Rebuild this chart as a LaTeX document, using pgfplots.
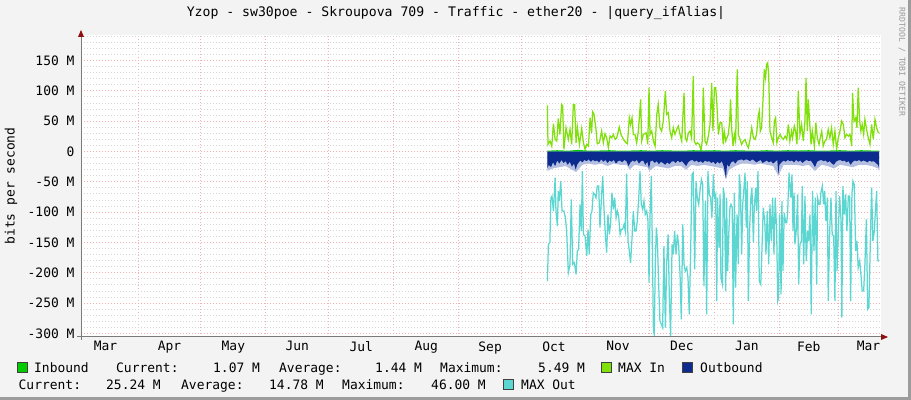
\documentclass[border=0pt]{standalone}
\usepackage{fontspec}
\setmainfont{DejaVu Sans Mono}
\usepackage{pgfplots}
\pgfplotsset{compat=1.18}
\definecolor{bgc}{HTML}{F3F3F3}
\definecolor{inb}{HTML}{00CC00}
\definecolor{maxin}{HTML}{7FE00A}
\definecolor{outb}{HTML}{0B2C8E}
\definecolor{outbl}{HTML}{B4BEE0}
\definecolor{maxout}{HTML}{5CD6D1}
\definecolor{gridmaj}{HTML}{F4B0B0}
\definecolor{gridmin}{HTML}{D6D6D6}
\definecolor{axisc}{HTML}{7A7A7A}
\definecolor{arrowc}{HTML}{8E1010}
\definecolor{frame}{HTML}{9C9C9C}
\begin{document}
\begin{tikzpicture}
\fill[bgc] (0bp,0bp) rectangle (911bp,400bp);
\fill[frame] (908bp,0bp) rectangle (911bp,400bp);
\fill[frame] (0bp,0bp) rectangle (911bp,3bp);
\fill[white] (81bp,63bp) rectangle (881bp,365bp);
\begin{axis}[
  at={(81bp,63bp)}, anchor=south west,
  width=799bp, height=302bp, scale only axis,
  xmin=-27.2, xmax=354, ymin=-306, ymax=192,
  axis line style={draw=none},
  xtick={0,30,61,91,122,153,183,214,244,275,306,334},
  xticklabels={},
  extra x ticks={-15.5,15,45.5,76,106.5,137.5,168,198.5,229,259.5,290.5,320,348.5},
  extra x tick labels={Mar,Apr,May,Jun,Jul,Aug,Sep,Oct,Nov,Dec,Jan,Feb,Mar},
  extra x tick style={grid=none},
  ytick={-300,-250,-200,-150,-100,-50,0,50,100,150},
  yticklabels={-300 M,-250 M,-200 M,-150 M,-100 M,-50 M,0,50 M,100 M,150 M},
  minor ytick={-290,-280,-270,-260,-240,-230,-220,-210,-190,-180,-170,-160,-140,-130,-120,-110,-90,-80,-70,-60,-40,-30,-20,-10,10,20,30,40,60,70,80,90,110,120,130,140,160,170,180,190},
  xmajorgrids, ymajorgrids, yminorgrids,
  major grid style={gridmaj, dash pattern=on 1bp off 2bp, line width=0.8bp},
  minor grid style={gridmin, dash pattern=on 1bp off 2bp, line width=0.8bp},
  tick style={draw=none},
  tick label style={font=\fontsize{13}{15}\selectfont, text=black},
  yticklabel style={xshift=-3bp},
  xticklabel style={yshift=-1bp},
]
% MAX In
\addplot[maxin, line width=1.25bp] coordinates {
(195.3,75.8) (195.6,11.6) (196.6,17.1) (197.4,8.8) (198.2,45.6) (199.0,19.8) (199.8,17.1) (200.5,54.4) (201.3,28.0) (202.1,77.5) (202.6,74.7) (203.2,3.3) (204.2,39.0) (205.3,19.8) (206.1,36.3) (206.9,11.6) (207.7,77.5) (208.3,77.5) (209.0,14.3) (209.6,40.1) (210.6,11.6) (211.7,37.9) (212.5,14.3) (213.3,3.3) (214.1,11.6) (214.9,8.8) (215.7,55.5) (216.4,30.8) (216.9,65.4) (217.6,61.0) (218.5,36.3) (219.1,12.7) (220.1,14.3) (221.2,33.5) (222.0,14.3) (222.8,29.1) (223.6,22.5) (224.4,6.1) (225.2,25.3) (226.0,22.5) (226.8,28.0) (227.6,19.8) (228.4,22.5) (229.6,40.1) (230.4,28.0) (231.6,19.8) (232.8,14.3) (233.5,12.7) (234.4,55.5) (235.0,44.5) (235.7,55.5) (236.3,28.0) (237.1,28.0) (237.9,14.3) (238.7,33.5) (239.8,85.7) (240.3,17.1) (241.1,28.0) (242.4,30.8) (243.2,11.6) (243.8,105.0) (244.3,28.0) (245.1,33.5) (245.9,17.1) (246.7,8.8) (247.5,61.0) (248.2,77.5) (249.0,39.0) (249.8,33.5) (250.6,50.0) (251.6,99.5) (252.2,61.0) (253.0,63.8) (253.8,33.5) (254.6,22.5) (255.4,39.0) (256.2,28.0) (257.0,36.3) (257.8,41.8) (258.6,28.0) (259.4,17.1) (260.5,96.7) (261.1,22.5) (261.8,17.1) (262.6,30.8) (263.4,33.5) (264.1,22.5) (264.9,124.2) (265.4,17.1) (266.2,11.6) (266.8,14.3) (267.8,11.6) (268.6,1.7) (269.2,17.1) (269.7,105.0) (270.5,17.1) (271.3,11.6) (272.1,25.3) (272.9,44.5) (273.7,113.2) (274.3,33.5) (275.0,105.0) (275.6,105.0) (276.2,77.5) (276.9,28.0) (277.7,47.3) (278.5,47.3) (279.2,11.6) (279.7,33.5) (280.4,17.1) (281.0,22.5) (281.6,28.0) (282.3,50.0) (282.7,85.7) (283.2,39.0) (283.9,8.8) (284.5,28.0) (285.1,17.1) (285.9,135.2) (286.4,28.0) (287.2,19.8) (288.0,11.6) (288.8,17.1) (289.6,19.8) (290.4,11.6) (291.2,6.1) (292.0,19.8) (292.8,39.0) (293.6,22.5) (294.4,19.8) (295.1,28.0) (295.9,58.3) (296.4,66.5) (296.9,33.5) (297.5,39.0) (298.3,94.0) (298.8,135.2) (299.4,121.4) (299.9,143.4) (300.4,146.1) (300.9,126.9) (301.5,33.5) (302.3,22.5) (303.1,14.3) (303.6,50.0) (304.2,55.5) (304.8,14.3) (305.5,22.5) (306.3,28.0) (307.1,22.5) (307.9,19.8) (308.7,25.3) (309.5,19.8) (310.3,44.5) (311.0,17.1) (311.8,33.5) (312.3,22.5) (313.1,41.8) (313.7,33.5) (314.4,11.6) (315.0,99.5) (315.8,28.0) (316.6,44.5) (317.4,17.1) (318.2,50.0) (318.7,121.4) (319.3,33.5) (319.8,85.7) (320.4,50.0) (321.1,11.6) (321.7,33.5) (322.7,8.8) (323.4,47.3) (324.1,22.5) (324.9,11.6) (325.5,22.5) (326.2,33.5) (326.9,8.8) (327.7,17.1) (328.5,19.8) (329.3,36.3) (330.1,22.5) (330.9,39.0) (331.7,11.6) (332.5,33.5) (333.3,3.3) (334.1,22.5) (334.9,33.5) (335.7,50.0) (336.5,44.5) (337.3,22.5) (338.1,28.0) (338.9,25.3) (339.7,28.0) (340.5,8.8) (340.9,96.7) (341.6,50.0) (342.4,55.5) (343.0,39.0) (343.6,105.0) (344.3,50.0) (344.9,33.5) (345.5,44.5) (346.2,28.0) (346.8,52.8) (347.6,36.3) (348.4,22.5) (349.2,11.6) (350.0,44.5) (350.8,19.8) (351.6,52.8) (352.4,39.0) (353.2,30.8) (353.7,30.8)
};
% Outbound (faded edge)
\addplot[fill=outbl, draw=none] coordinates {
(195.3,-32) (198,-28) (201,-26) (204,-24) (207,-30) (209,-34) (212,-22) (215,-20) (218,-22) (221,-20) (224,-24) (227,-20) (230,-22) (233,-22) (234.5,-30) (237,-22) (240,-24) (243,-26) (244,-32) (247,-24) (250,-26) (253,-28) (256,-24) (259,-24) (261.5,-30) (264,-22) (267,-24) (270,-22) (273,-24) (276,-26) (279,-28) (280.5,-46) (282,-30) (285,-24) (288,-20) (291,-20) (294,-22) (297,-20) (300,-22) (303,-24) (305.5,-40) (308,-22) (311,-22) (314,-22) (317,-24) (320,-22) (323,-32) (326,-22) (329,-24) (332,-28) (335,-22) (338,-24) (341,-26) (344,-22) (347,-22) (350,-24) (353,-28) (353.6,-32)
} \closedcycle;
% Outbound
\addplot[fill=outb, draw=none] coordinates {
(195.3,-28) (196,-22) (197,-26) (198,-18) (199,-24) (200,-15) (201,-20) (202,-14) (203,-19) (204,-16) (205,-22) (206,-17) (207,-25) (208,-20) (208.8,-30) (209.5,-22) (210.3,-18) (211,-15) (212,-18) (213,-14) (214,-16) (215,-13) (216,-17) (217,-14) (218,-16) (219,-15) (220,-18) (221,-13) (222,-17) (223,-14) (224,-19) (225,-15) (226,-17) (227,-14) (228,-20) (229,-16) (230,-15) (231,-18) (232,-14) (233,-16) (234,-24) (235,-18) (236,-15) (237,-17) (238,-14) (239,-20) (240,-16) (241,-15) (242,-22) (243,-17) (243.8,-28) (244.5,-16) (245.5,-15) (246.5,-19) (247.5,-16) (248.5,-21) (249.5,-17) (250.5,-19) (251.5,-22) (252.5,-18) (253.5,-21) (254.5,-17) (255.5,-16) (256.5,-19) (257.5,-15) (258.5,-18) (259.5,-16) (260.5,-20) (261.5,-24) (262.5,-18) (263.5,-15) (264.5,-14) (265.5,-17) (266.5,-15) (267.5,-18) (268.5,-16) (269.5,-19) (270.5,-15) (271.5,-17) (272.5,-16) (273.5,-19) (274.5,-17) (275.5,-21) (276.5,-17) (277.5,-20) (278.5,-16) (279.5,-25) (280.5,-45) (281,-22) (282,-25) (283,-18) (284,-16) (285,-20) (286,-15) (287,-14) (288,-13) (289,-15) (290,-13) (291,-14) (292,-16) (293,-13) (294,-15) (295,-18) (296,-16) (297,-14) (298,-19) (299,-17) (300,-15) (301,-18) (302,-16) (303,-20) (304,-17) (305,-14) (305.5,-38) (306,-22) (307,-18) (308,-15) (309,-17) (310,-14) (311,-16) (312,-15) (313,-18) (314,-14) (315,-17) (316,-15) (317,-19) (318,-16) (319,-14) (320,-16) (321,-15) (322,-20) (323,-26) (324,-17) (325,-15) (326,-14) (327,-16) (328,-15) (329,-18) (330,-16) (331,-20) (332,-22) (333,-17) (334,-15) (335,-14) (336,-16) (337,-15) (338,-18) (339,-16) (340,-22) (341,-17) (342,-15) (343,-16) (344,-14) (345,-17) (346,-15) (347,-16) (348,-18) (349,-15) (350,-17) (351,-16) (352,-19) (353,-22) (353.6,-28)
} \closedcycle;
% Inbound
\addplot[fill=inb, draw=none] coordinates {
(195.3,1.2) (200,2) (205,1.2) (210,2.5) (215,1.2) (220,1.5) (225,2) (230,1.2) (235,1.5) (240,2) (245,1.2) (250,2) (255,1.5) (260,1.2) (265,2) (270,1.5) (275,2) (280,1.2) (285,2) (290,1.5) (295,1.2) (300,2) (305,1.2) (310,2) (315,1.5) (320,2) (325,1.2) (330,1.5) (335,2) (340,1.2) (345,2) (350,1.5) (353.6,1.2)
} \closedcycle;
% MAX Out
\addplot[maxout, line width=1.25bp] coordinates {
(195.3,-213.7) (195.8,-153.3) (196.5,-150) (197.0,-76.3) (197.5,-73.6) (198.2,-98.3) (199.0,-43.4) (199.4,-98.3) (200.1,-123.0) (200.5,-65.4) (201.0,-81.8) (201.7,-48.9) (202.3,-98.3) (203.2,-98.3) (203.9,-109.3) (204.5,-131.3) (205.3,-200.0) (206.1,-186.2) (206.7,-79.1) (207.4,-186.2) (208.2,-183.5) (209.0,-202.7) (209.6,-164.2) (210.2,-161.5) (210.9,-87.3) (211.5,-131.3) (212.0,-32.4) (212.5,-136.8) (213.3,-139.5) (214.1,-172.5) (214.7,-128.5) (215.3,-169.7) (216.0,-103.8) (216.6,-98.3) (217.2,-68.1) (217.9,-70.9) (218.5,-76.3) (219.1,-57.1) (219.8,-57.1) (220.4,-125.8) (221.1,-76.3) (221.7,-40.6) (222.3,-92.8) (223.0,-139.5) (223.6,-167.0) (224.2,-103.8) (224.9,-136.8) (225.5,-117.5) (226.1,-68.1) (226.8,-95.6) (227.4,-76.3) (228.1,-109.3) (228.7,-98.3) (229.3,-106.6) (230.0,-136.8) (230.6,-128.5) (231.2,-128.5) (231.9,-120.3) (232.5,-131.3) (233.1,-36.8) (233.8,-147.8) (234.4,-164.2) (235.0,-183.5) (235.7,-142.3) (236.3,-98.3) (237.0,-131.3) (237.6,-131.3) (238.2,-114.8) (238.9,-76.3) (239.5,-32.4) (240.1,-87.3) (240.8,-95.6) (241.4,-81.8) (242.0,-103.8) (242.7,-98.3) (243.3,-114.8) (243.8,-216.4) (244.3,-103.8) (244.9,-40.6) (245.4,-158.8) (245.9,-296.1) (246.3,-301.6) (246.8,-186.2) (247.3,-125.8) (247.8,-147.8) (248.4,-219.2) (249.0,-279.6) (249.7,-285.1) (250.3,-290.6) (250.9,-156.0) (251.6,-290.6) (252.2,-186.2) (252.9,-136.8) (253.5,-241.2) (254.1,-304.0) (254.8,-153.3) (255.4,-169.7) (256.0,-131.3) (256.7,-169.7) (257.3,-136.8) (257.9,-153.3) (258.6,-202.7) (259.2,-276.9) (259.9,-120.3) (260.5,-186.2) (261.1,-197.2) (261.8,-191.7) (262.4,-208.2) (263.0,-268.6) (263.7,-158.8) (264.3,-37.9) (264.9,-35.1) (265.6,-194.5) (266.2,-48.9) (266.8,-76.3) (267.5,-87.3) (268.1,-65.4) (268.8,-46.1) (269.4,-54.4) (270.0,-221.9) (270.7,-81.8) (271.3,-268.6) (271.9,-32.4) (272.6,-70.9) (273.2,-76.3) (273.8,-109.3) (274.5,-37.9) (275.0,-76.3) (275.6,-70.9) (276.1,-246.7) (276.5,-76.3) (277.2,-158.8) (277.7,-70.9) (278.1,-208.2) (278.8,-219.2) (279.2,-59.9) (279.7,-70.9) (280.4,-230.2) (280.8,-76.3) (281.3,-197.2) (281.9,-131.3) (282.4,-92.8) (282.9,-87.3) (283.5,-92.8) (284.0,-285.1) (284.5,-68.1) (285.1,-224.7) (285.8,-103.8) (286.4,-186.2) (286.9,-37.9) (287.4,-59.9) (288.0,-169.7) (288.5,-87.3) (289.0,-65.4) (289.6,-35.1) (290.2,-125.8) (290.7,-48.9) (291.2,-246.7) (291.8,-125.8) (292.4,-76.3) (292.9,-59.9) (293.6,-150.5) (294.0,-92.8) (294.7,-59.9) (295.1,-98.3) (295.8,-32.4) (296.4,-213.7) (297.1,-219.2) (297.5,-180.7) (298.3,-92.8) (299.0,-114.8) (299.6,-169.7) (300.2,-98.3) (300.9,-186.2) (301.5,-87.3) (302.1,-147.8) (302.8,-76.3) (303.4,-169.7) (304.0,-76.3) (304.7,-131.3) (305.2,-246.7) (305.6,-241.2) (306.1,-103.8) (306.8,-235.7) (307.2,-81.8) (307.7,-197.2) (308.3,-101.1) (309.0,-117.5) (309.5,-117.5) (309.9,-103.8) (310.6,-35.1) (311.0,-54.4) (311.5,-76.3) (312.0,-37.9) (312.5,-131.3) (313.0,-68.1) (313.4,-153.3) (314.1,-128.5) (314.7,-70.9) (315.2,-219.2) (315.8,-153.3) (316.5,-147.8) (316.9,-57.1) (317.6,-186.2) (318.2,-73.6) (318.8,-180.7) (319.5,-131.3) (319.9,-147.8) (320.6,-103.8) (321.2,-268.6) (321.8,-65.4) (322.5,-164.2) (323.1,-76.3) (323.8,-219.2) (324.2,-76.3) (324.9,-87.3) (325.4,-87.3) (325.8,-68.1) (326.5,-57.1) (327.1,-87.3) (327.6,-65.4) (328.2,-114.8) (328.9,-76.3) (329.3,-246.7) (330.0,-131.3) (330.6,-76.3) (331.2,-136.8) (331.9,-139.5) (332.5,-246.7) (333.0,-65.4) (333.5,-197.2) (334.1,-136.8) (334.7,-73.6) (335.4,-112.0) (335.8,-274.1) (336.3,-57.1) (337.0,-103.8) (337.6,-70.9) (338.2,-131.3) (338.9,-73.6) (339.5,-73.6) (340.0,-246.7) (340.6,-70.9) (341.1,-48.9) (341.7,-54.4) (342.4,-164.2) (343.0,-147.8) (343.6,-191.7) (344.3,-180.7) (344.9,-202.7) (345.5,-230.2) (346.2,-230.2) (346.8,-186.2) (347.5,-112.0) (348.1,-260.4) (348.7,-257.6) (349.4,-147.8) (350.0,-59.9) (350.6,-147.8) (351.3,-131.3) (351.8,-98.3) (352.4,-65.4) (353.0,-180.7) (353.5,-180.7)
};
\end{axis}
% axis lines and arrows
\draw[axisc, line width=1bp] (81bp,60bp) -- (81bp,366bp);
\draw[axisc, line width=1bp] (77bp,63bp) -- (884bp,63bp);
\fill[arrowc] (81bp,370bp) -- (78bp,363bp) -- (84bp,363bp) -- cycle;
\fill[arrowc] (888bp,63bp) -- (881bp,60bp) -- (881bp,66bp) -- cycle;
% title and labels
\node[inner sep=0pt] at (456bp,387bp) {\fontsize{13.2}{15}\selectfont Yzop - sw30poe - Skroupova 709 - Traffic - ether20 - |query\_ifAlias|};
\node[rotate=90, inner sep=0pt] at (11bp,214bp) {\fontsize{13}{15}\selectfont bits per second};
\node[rotate=-90, inner sep=0pt, text=black!40] at (902bp,338bp) {\fontsize{8.2}{10}\selectfont RRDTOOL / TOBI OETIKER};
% legend
\begin{scope}[every node/.style={inner sep=0pt, anchor=base west, font=\fontsize{13}{15}\selectfont}]
\filldraw[fill=inb, draw=black!75, line width=0.6bp] (17.5bp,27.5bp) rectangle (27.5bp,37.5bp);
\node at (34bp,28bp) {Inbound};
\node at (116bp,28bp) {Current:};
\node at (213bp,28bp) {1.07 M};
\node at (279bp,28bp) {Average:};
\node at (375bp,28bp) {1.44 M};
\node at (440bp,28bp) {Maximum:};
\node at (538bp,28bp) {5.49 M};
\filldraw[fill=maxin, draw=black!75, line width=0.6bp] (601.5bp,27.5bp) rectangle (611.5bp,37.5bp);
\node at (618bp,28bp) {MAX In};
\filldraw[fill=outb, draw=black!75, line width=0.6bp] (682.5bp,27.5bp) rectangle (692.5bp,37.5bp);
\node at (700bp,28bp) {Outbound};
\node at (18.5bp,11bp) {Current:};
\node at (106bp,11bp) {25.24 M};
\node at (181bp,11bp) {Average:};
\node at (269bp,11bp) {14.78 M};
\node at (342bp,11bp) {Maximum:};
\node at (431bp,11bp) {46.00 M};
\filldraw[fill=maxout, draw=black!75, line width=0.6bp] (503.5bp,10.5bp) rectangle (513.5bp,20.5bp);
\node at (521bp,11bp) {MAX Out};
\end{scope}
\end{tikzpicture}
\end{document}
